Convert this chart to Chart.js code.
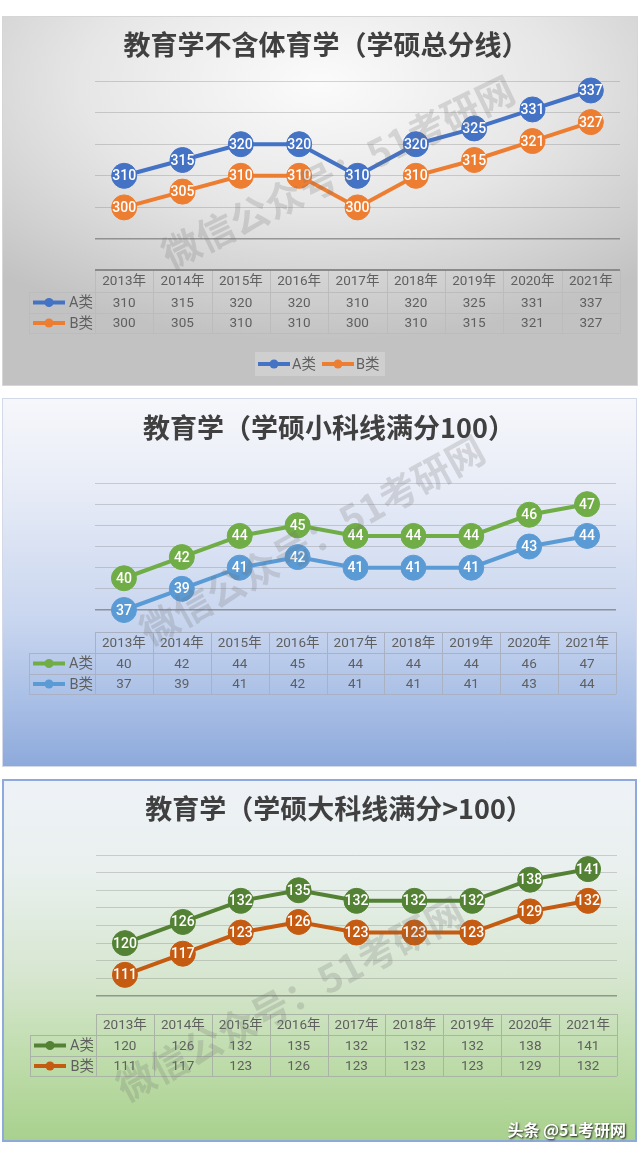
<!DOCTYPE html>
<html>
<head>
<meta charset="utf-8">
<script src="https://cdn.jsdelivr.net/npm/chart.js@4.4.1/dist/chart.umd.min.js"></script>
<style>
  html, body { margin: 0; padding: 0; background: #fff; }
  body { width: 640px; height: 1153px; position: relative; overflow: hidden; }
  .panel { position: absolute; left: 2px; box-sizing: border-box; }
  .panel canvas { position: absolute; left: -1px; top: -1px; }
  #p1 { top: 16px; width: 636px; height: 370px; border: 1px solid #d6d6d6;
        background: radial-gradient(ellipse 75% 70% at 50% 18%, #fbfbfb 0%, #e6e6e6 50%, #cdcdcd 85%, #c2c2c2 100%); }
  #p2 { top: 398px; width: 635px; height: 369px; border: 1px solid #d3d9e6;
        background: linear-gradient(to bottom, #f6f7fb 0%, #e9edf7 22%, #c9d6ef 60%, #a9bfe6 82%, #8eaadb 100%); }
  #p3 { top: 779px; width: 635px; height: 363px; border: 2px solid #8eaadb;
        background: linear-gradient(to bottom, #eef2f7 0%, #e9f0ee 25%, #d6e6cf 55%, #bedcaa 78%, #a9d18e 100%); }
</style>
</head>
<body>
<div class="panel" id="p1"><canvas id="c1" width="636" height="370"></canvas></div>
<div class="panel" id="p2"><canvas id="c2" width="635" height="369"></canvas></div>
<div class="panel" id="p3"><canvas id="c3" width="635" height="363"></canvas></div>
<script>
const years = ['2013年','2014年','2015年','2016年','2017年','2018年','2019年','2020年','2021年'];
const seriesNames = ['A类', 'B类'];

const totalA = [310, 315, 320, 320, 310, 320, 325, 331, 337];
const totalB = [300, 305, 310, 310, 300, 310, 315, 321, 327];

const smallA = [40, 42, 44, 45, 44, 44, 44, 46, 47];
const smallB = [37, 39, 41, 42, 41, 41, 41, 43, 44];

const bigA = [120, 126, 132, 135, 132, 132, 132, 138, 141];
const bigB = [111, 117, 123, 126, 123, 123, 123, 129, 132];

const NUM_FONT = "Roboto, 'Noto Sans CJK SC', sans-serif";
const CJK_FONT = "'Noto Sans CJK SC', 'Noto Sans', sans-serif";

function drawKey(ctx, x, y, color) {
    ctx.save();
    ctx.strokeStyle = color;
    ctx.lineWidth = 4;
    ctx.beginPath();
    ctx.moveTo(x, y);
    ctx.lineTo(x + 32, y);
    ctx.stroke();
    ctx.fillStyle = color;
    ctx.beginPath();
    ctx.arc(x + 16, y, 4.5, 0, Math.PI * 2);
    ctx.fill();
    ctx.restore();
}

// value labels inside the markers
const valueLabels = {
    id: 'valueLabels',
    afterDatasetsDraw(chart) {
        const ctx = chart.ctx;
        ctx.save();
        ctx.fillStyle = '#fff';
        ctx.font = '500 14px ' + NUM_FONT;
        ctx.textAlign = 'center';
        ctx.textBaseline = 'middle';
        chart.data.datasets.forEach((ds, i) => {
            chart.getDatasetMeta(i).data.forEach((pt, j) => {
                ctx.fillText(ds.data[j], pt.x, pt.y + 1);
            });
        });
        ctx.restore();
    }
};

// data table under the plot, like Excel's
const dataTable = {
    id: 'dataTable',
    afterDraw(chart, args, opts) {
        const ctx = chart.ctx;
        const xs = chart.scales.x;
        const n = chart.data.labels.length;
        const w = xs.getPixelForValue(1) - xs.getPixelForValue(0);
        const left = xs.getPixelForValue(0) - w / 2;
        const right = left + w * n;
        const keyLeft = 27;
        const y0 = chart.chartArea.bottom + opts.gap;
        const ys = [y0];
        opts.rows.forEach(h => ys.push(ys[ys.length - 1] + h));

        ctx.save();
        ctx.strokeStyle = opts.lineColor;
        ctx.lineWidth = 1;
        ctx.beginPath();
        ctx.moveTo(left, ys[0] + 0.5); ctx.lineTo(right, ys[0] + 0.5);
        for (let r = 1; r < ys.length; r++) {
            ctx.moveTo(keyLeft, ys[r] + 0.5); ctx.lineTo(right, ys[r] + 0.5);
        }
        for (let c = 0; c <= n; c++) {
            const x = Math.round(left + c * w) + 0.5;
            ctx.moveTo(x, ys[0]); ctx.lineTo(x, ys[ys.length - 1]);
        }
        ctx.moveTo(keyLeft + 0.5, ys[1]); ctx.lineTo(keyLeft + 0.5, ys[ys.length - 1]);
        ctx.stroke();
        if (opts.topLine) {
            ctx.strokeStyle = opts.topLine;
            ctx.lineWidth = 2;
            ctx.beginPath();
            ctx.moveTo(left, ys[0]); ctx.lineTo(right, ys[0]);
            ctx.stroke();
        }

        ctx.fillStyle = '#5f5f5f';
        ctx.font = '13.5px ' + NUM_FONT;
        ctx.textAlign = 'center';
        ctx.textBaseline = 'middle';
        chart.data.labels.forEach((lab, c) => {
            ctx.fillText(lab, xs.getPixelForValue(c), (ys[0] + ys[1]) / 2 + 1);
        });
        chart.data.datasets.forEach((ds, r) => {
            const cy = (ys[r + 1] + ys[r + 2]) / 2 + 1;
            ds.data.forEach((v, c) => ctx.fillText(v, xs.getPixelForValue(c), cy));
            drawKey(ctx, keyLeft + 4, cy - 1, ds.borderColor);
            ctx.textAlign = 'right';
            ctx.font = '14.5px ' + NUM_FONT;
            ctx.fillText(ds.label, left - 2, cy);
            ctx.font = '13.5px ' + NUM_FONT;
            ctx.textAlign = 'center';
        });

        if (opts.legend) {
            const lg = opts.legend;
            ctx.fillStyle = 'rgba(255,255,255,0.22)';
            ctx.fillRect(lg.x, lg.y, lg.w, lg.h);
            ctx.textAlign = 'left';
            ctx.fillStyle = '#5f5f5f';
            ctx.font = '14.5px ' + NUM_FONT;
            let x = lg.x + 3;
            const cy = lg.y + lg.h / 2;
            chart.data.datasets.forEach(ds => {
                drawKey(ctx, x, cy, ds.borderColor);
                ctx.fillText(ds.label, x + 34, cy + 1);
                x += 64;
            });
        }
        ctx.restore();
    }
};

// diagonal watermark text
const watermark = {
    id: 'watermark',
    afterDraw(chart, args, opts) {
        const ctx = chart.ctx;
        ctx.save();
        ctx.translate(opts.x, opts.y);
        ctx.rotate(-opts.angle * Math.PI / 180);
        ctx.font = 'bold 38px ' + CJK_FONT;
        ctx.fillStyle = 'rgba(110,110,110,0.22)';
        ctx.textAlign = 'center';
        ctx.textBaseline = 'middle';
        ctx.fillText('微信公众号：51考研网', 0, 0);
        ctx.restore();
        if (opts.credit) {
            ctx.save();
            ctx.font = 'bold 16px ' + CJK_FONT;
            ctx.textAlign = 'right';
            ctx.textBaseline = 'middle';
            ctx.shadowColor = 'rgba(0,0,0,0.85)';
            ctx.shadowBlur = 2;
            ctx.shadowOffsetX = 1;
            ctx.shadowOffsetY = 1;
            ctx.fillStyle = '#fff';
            ctx.fillText(opts.credit, chart.width - 12, chart.height - 13);
            ctx.restore();
        }
    }
};

// pad: layout padding; yw: width given to the (hidden) y axis so the plot starts at x=93
function makeChart(id, title, a, b, colors, y, pad, yw, titlePad, table, mark) {
    return new Chart(document.getElementById(id), {
        type: 'line',
        data: {
            labels: years,
            datasets: [a, b].map((d, i) => ({
                label: seriesNames[i],
                data: d,
                borderColor: colors[i],
                backgroundColor: colors[i],
                borderWidth: 4,
                pointRadius: 12.5,
                pointBorderWidth: 1,
                pointBackgroundColor: colors[i],
                pointBorderColor: colors[i],
                pointHoverRadius: 12.5,
                tension: 0,
                clip: false,
            }))
        },
        options: {
            responsive: false,
            animation: false,
            events: [],
            layout: { autoPadding: false, padding: pad },
            plugins: {
                legend: { display: false },
                tooltip: { enabled: false },
                title: {
                    display: true,
                    text: title,
                    color: '#404040',
                    font: { family: CJK_FONT, size: 27, weight: 'bold', lineHeight: 1.2 },
                    padding: titlePad,
                },
                dataTable: table,
                watermark: mark,
            },
            scales: {
                x: { display: false, offset: true },
                y: {
                    min: y[0], max: y[1],
                    ticks: { display: false, stepSize: y[2] },
                    border: { display: false },
                    grid: {
                        drawTicks: false,
                        color: c => c.index === 0 ? 'rgba(90,90,90,0.55)' : 'rgba(120,120,120,0.3)',
                        lineWidth: c => c.index === 0 ? 1.5 : 1,
                    },
                    afterFit: s => { s.width = yw; },
                }
            }
        },
        plugins: [valueLabels, dataTable, watermark]
    });
}

makeChart('c1', '教育学不含体育学（学硕总分线）', totalA, totalB, ['#4472C4', '#ED7D31'],
    [290, 340, 10],
    { left: 30, right: 18, top: 0, bottom: 147 }, 63,
    { top: 12.6, bottom: 20 },
    { gap: 31, rows: [22, 21, 20], lineColor: '#bcbcbc', topLine: '#8a8a8a',
      legend: { x: 253, y: 336, w: 130, h: 24 } },
    { x: 336, y: 156, angle: 26 });

makeChart('c2', '教育学（学硕小科线满分100）', smallA, smallB, ['#70AD47', '#5B9BD5'],
    [37, 49, 2],
    { left: 40, right: 21, top: 0, bottom: 157 }, 53,
    { top: 13.8, bottom: 38.8 },
    { gap: 22, rows: [21, 21, 20], lineColor: '#a9b1c2' },
    { x: 310, y: 142, angle: 29 });

makeChart('c3', '教育学（学硕大科线满分>100）', bigA, bigB, ['#548235', '#C55A11'],
    [105, 145, 5],
    { left: 58, right: 21, top: 0, bottom: 147 }, 35,
    { top: 12.8, bottom: 29.8 },
    { gap: 18, rows: [21, 21, 20], lineColor: '#a9b3a6' },
    { x: 287, y: 219, angle: 28, credit: '头条 @51考研网' });
</script>
</body>
</html>
